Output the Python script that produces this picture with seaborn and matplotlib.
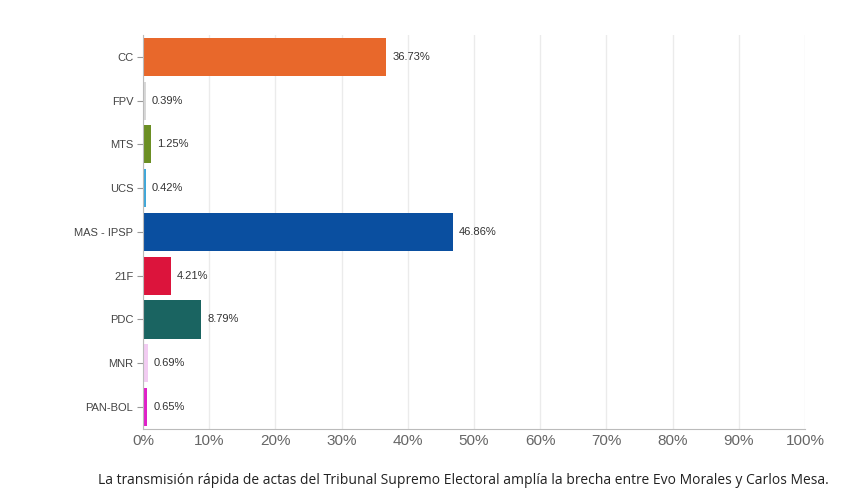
import matplotlib
matplotlib.use("Agg")
import matplotlib.pyplot as plt
import seaborn as sns
import pandas as pd

parties = ["CC", "FPV", "MTS", "UCS", "MAS - IPSP", "21F", "PDC", "MNR", "PAN-BOL"]
votes = [36.73, 0.39, 1.25, 0.42, 46.86, 4.21, 8.79, 0.69, 0.65]
colors = ["#e8682b", "#d8d8d8", "#6b8e23", "#3fa7d9", "#0a4fa0",
          "#dc143c", "#1a6461", "#f2ccf2", "#e020c8"]
caption = "La transmisión rápida de actas del Tribunal Supremo Electoral amplía la brecha entre Evo Morales y Carlos Mesa."

df = pd.DataFrame({"party": parties, "votes": votes})

fig = plt.figure(figsize=(8.67, 4.93), dpi=100)
ax = fig.add_axes([0.165, 0.13, 0.7636, 0.799])
sns.barplot(data=df, y="party", x="votes", hue="party", palette=colors,
            legend=False, width=0.87, saturation=1, ax=ax)

ax.set_xlim(0, 100)
ax.set_xticks(range(0, 101, 10))
ax.set_xticklabels([f"{t}%" for t in range(0, 101, 10)],
                   fontsize=11, color="#666666", family="Liberation Sans")
ax.set_yticklabels(parties, fontsize=8, color="#444444", family="Liberation Sans")
ax.tick_params(axis="y", length=4, color="#999999", pad=3)
ax.tick_params(axis="x", length=0, pad=4)
ax.set_xlabel("")
ax.set_ylabel("")
ax.grid(axis="x", color="#ebebeb", linewidth=1)
ax.set_axisbelow(True)
for s in ["top", "right"]:
    ax.spines[s].set_visible(False)
ax.spines["left"].set_color("#bbbbbb")
ax.spines["bottom"].set_color("#bbbbbb")

for i, v in enumerate(votes):
    ax.text(v + 0.9, i, f"{v:.2f}%", va="center", ha="left",
            fontsize=8, color="#333333", family="Liberation Sans")

fig.text(0.113, 0.018, caption, fontsize=10, family="Open Sans", color="#222222")

fig.savefig("out.png", dpi=100)
